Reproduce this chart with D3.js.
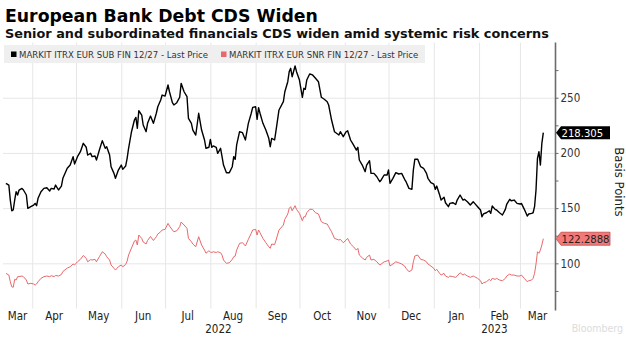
<!DOCTYPE html>
<html>
<head>
<meta charset="utf-8">
<script src="https://cdn.jsdelivr.net/npm/d3@7"></script>
<style>
  body { margin: 0; background: #fff; }
  svg { display: block; font-family: "DejaVu Sans Condensed", "DejaVu Sans", sans-serif; }
</style>
</head>
<body>
<svg id="chart" width="626" height="337"></svg>
<script>
// trading dates traced for both CDS indices
const dates = [
  "2022-03-14","2022-03-16","2022-03-17","2022-03-18","2022-03-19","2022-03-20","2022-03-21","2022-03-22","2022-03-23","2022-03-25",
  "2022-03-26","2022-03-28","2022-03-29","2022-03-31","2022-04-02","2022-04-03","2022-04-04","2022-04-05","2022-04-07","2022-04-09",
  "2022-04-11","2022-04-13","2022-04-14","2022-04-16","2022-04-17","2022-04-19","2022-04-21","2022-04-22","2022-04-25","2022-04-27",
  "2022-04-29","2022-04-30","2022-05-02","2022-05-04","2022-05-06","2022-05-08","2022-05-09","2022-05-11","2022-05-12","2022-05-14",
  "2022-05-15","2022-05-17","2022-05-19","2022-05-21","2022-05-22","2022-05-24","2022-05-25","2022-05-27","2022-05-28","2022-05-30",
  "2022-06-01","2022-06-02","2022-06-04","2022-06-05","2022-06-06","2022-06-08","2022-06-10","2022-06-11","2022-06-12","2022-06-13",
  "2022-06-15","2022-06-16","2022-06-18","2022-06-19","2022-06-21","2022-06-23","2022-06-25","2022-06-26","2022-06-28","2022-06-29",
  "2022-07-01","2022-07-03","2022-07-04","2022-07-06","2022-07-07","2022-07-09","2022-07-11","2022-07-12","2022-07-14","2022-07-16",
  "2022-07-17","2022-07-19","2022-07-20","2022-07-22","2022-07-24","2022-07-26","2022-07-28","2022-07-29","2022-07-31","2022-08-01",
  "2022-08-02","2022-08-03","2022-08-05","2022-08-06","2022-08-08","2022-08-09","2022-08-10","2022-08-12","2022-08-14","2022-08-16",
  "2022-08-17","2022-08-18","2022-08-19","2022-08-21","2022-08-23","2022-08-25","2022-08-27","2022-08-29","2022-08-30","2022-09-01",
  "2022-09-02","2022-09-03","2022-09-04","2022-09-06","2022-09-08","2022-09-10","2022-09-11","2022-09-12","2022-09-14","2022-09-15",
  "2022-09-17","2022-09-20","2022-09-21","2022-09-23","2022-09-24","2022-09-25","2022-09-26","2022-09-28","2022-09-29","2022-10-01",
  "2022-10-03","2022-10-04","2022-10-05","2022-10-06","2022-10-08","2022-10-10","2022-10-12","2022-10-14","2022-10-16","2022-10-18",
  "2022-10-20","2022-10-21","2022-10-23","2022-10-25","2022-10-28","2022-10-29","2022-10-31","2022-11-02","2022-11-03","2022-11-05",
  "2022-11-07","2022-11-09","2022-11-10","2022-11-11","2022-11-13","2022-11-15","2022-11-16","2022-11-18","2022-11-19","2022-11-21",
  "2022-11-23","2022-11-25","2022-11-26","2022-11-28","2022-11-30","2022-12-01","2022-12-02","2022-12-04","2022-12-06","2022-12-08",
  "2022-12-10","2022-12-12","2022-12-13","2022-12-15","2022-12-17","2022-12-18","2022-12-19","2022-12-21","2022-12-23","2022-12-25",
  "2022-12-27","2022-12-28","2022-12-30","2023-01-01","2023-01-02","2023-01-03","2023-01-05","2023-01-06","2023-01-08","2023-01-09",
  "2023-01-11","2023-01-12","2023-01-14","2023-01-16","2023-01-17","2023-01-19","2023-01-21","2023-01-22","2023-01-24","2023-01-26",
  "2023-01-28","2023-01-29","2023-01-31","2023-02-02","2023-02-03","2023-02-04","2023-02-06","2023-02-08","2023-02-09","2023-02-10",
  "2023-02-12","2023-02-13","2023-02-15","2023-02-17","2023-02-19","2023-02-20","2023-02-22","2023-02-23","2023-02-25","2023-02-27",
  "2023-03-01","2023-03-02","2023-03-04","2023-03-06","2023-03-07","2023-03-09","2023-03-10","2023-03-11","2023-03-12","2023-03-13",
  "2023-03-14","2023-03-15","2023-03-16","2023-03-17"
];

// MARKIT ITRX EUR SUB FIN 12/27
const subFin = [
  172.5,170.9,157.3,147.6,148.3,157.3,164.9,161.9,166.4,167.9,
  166.4,161.9,149.8,151.3,152.8,154.3,152.2,158.9,164.9,167.9,
  168.5,165.5,167.9,167.3,170.9,166.4,170.0,177.0,186.1,189.0,
  196.6,190.0,196.6,201.1,208.7,205.1,198.1,199.6,196.6,197.2,
  193.6,202.6,211.1,204.2,205.6,198.1,187.5,181.5,177.0,184.5,
  189.0,185.1,188.1,195.1,204.2,219.2,229.8,232.2,222.3,238.2,
  234.3,225.3,219.2,226.8,233.4,226.8,235.9,241.8,247.9,252.4,
  251.5,261.5,255.4,245.5,243.4,245.5,250.4,263.0,255.4,250.9,
  231.3,226.8,220.7,216.2,235.9,220.7,211.7,204.2,205.1,212.3,
  205.1,206.3,205.1,199.6,204.2,196.6,189.0,182.1,182.1,187.5,
  196.6,194.2,207.2,219.2,218.3,211.7,226.8,235.9,241.3,241.8,
  230.4,240.9,235.9,226.8,220.7,213.2,205.6,213.2,211.7,220.7,
  238.9,246.4,255.4,264.5,273.6,276.6,269.0,278.7,273.6,266.0,
  250.4,258.5,257.6,266.0,271.5,270.6,267.6,264.5,250.4,248.6,
  246.4,243.4,229.8,219.2,216.2,219.2,214.7,219.2,220.1,211.7,
  207.2,202.6,205.1,193.6,189.0,183.0,189.0,192.9,181.5,181.5,
  178.4,173.9,175.5,180.0,180.0,184.5,172.5,177.0,182.1,180.9,
  181.5,176.1,173.9,167.9,167.0,184.5,194.2,194.2,187.5,186.1,
  181.5,177.0,173.0,171.8,167.0,170.0,161.9,157.3,159.8,154.9,
  151.3,154.3,154.9,153.3,157.3,161.9,157.3,158.0,155.8,152.8,
  155.8,154.3,151.3,148.3,142.2,144.7,145.8,147.6,145.3,151.9,
  148.9,148.3,145.8,143.8,148.9,153.7,158.0,156.7,157.3,154.3,
  153.7,154.3,148.9,142.8,144.7,145.3,145.8,151.3,166.4,195.1,
  201.1,189.0,208.7,218.305
];

// MARKIT ITRX EUR SNR FIN 12/27
const snrFin = [
  90.9,89.4,83.3,78.8,78.3,85.5,84.9,87.9,88.0,88.5,
  87.9,84.9,81.3,81.9,81.3,80.3,81.3,83.3,86.4,87.9,
  88.5,87.9,88.8,88.0,89.0,88.5,89.9,92.6,95.7,96.9,
  99.4,98.5,101.4,103.6,107.1,104.5,101.4,103.4,103.0,103.6,
  101.4,106.0,110.5,108.4,106.0,103.0,98.5,95.5,93.9,96.9,
  98.5,96.9,98.9,102.1,107.5,113.9,120.2,121.1,116.6,125.6,
  122.6,119.3,117.5,120.7,124.3,120.7,124.1,126.5,128.6,130.2,
  130.8,136.2,133.8,130.2,128.6,129.5,133.2,137.4,134.7,131.7,
  122.6,119.6,117.5,115.0,124.1,116.6,112.0,109.1,111.4,110.2,
  109.8,110.5,109.8,110.5,109.6,107.5,103.0,100.0,100.5,103.6,
  106.0,106.6,112.0,118.1,118.7,115.7,121.7,127.2,130.2,130.8,
  125.6,130.2,127.7,122.6,118.7,115.0,113.6,117.5,117.0,121.1,
  130.2,134.7,139.9,144.7,149.8,151.3,147.6,152.2,148.9,145.3,
  138.6,142.2,142.2,145.8,148.9,148.9,145.8,144.7,137.7,136.2,
  135.6,133.2,128.6,122.6,121.1,121.7,118.7,121.1,122.6,117.5,
  115.0,112.0,113.6,107.5,105.0,103.0,105.4,107.5,103.0,103.6,
  101.4,98.5,99.4,101.4,102.1,103.0,97.6,99.4,101.4,100.5,
  99.4,97.6,95.5,92.4,93.9,101.4,106.6,107.5,103.6,103.0,
  101.4,99.4,97.6,95.5,93.3,94.6,90.9,89.4,90.9,88.5,
  87.3,88.5,88.0,87.3,88.5,91.5,89.4,90.3,88.5,87.3,
  88.5,87.9,86.4,84.2,81.3,82.4,83.3,85.5,84.2,86.4,
  85.5,86.4,84.9,84.2,86.4,88.5,90.3,89.4,89.4,88.5,
  88.5,89.4,86.4,83.3,84.2,84.9,86.4,90.9,99.4,110.5,
  109.1,112.0,116.6,122.2888
];

const seriesNames = ["MARKIT ITRX EUR SUB FIN 12/27 - Last Price", "MARKIT ITRX EUR SNR FIN 12/27 - Last Price"];
const lastLabels = ["218.305", "122.2888"];
const yTicks = [75, 100, 125, 150, 175, 200, 225, 250, 275];
const yLabelled = [100, 150, 200, 250];

const parse = d3.timeParse("%Y-%m-%d");
const series = [
  { name: seriesNames[0], values: subFin, color: "#000000", width: 1.4, tag: "#000000", tagText: "#ffffff", last: lastLabels[0] },
  { name: seriesNames[1], values: snrFin, color: "#e8696b", width: 1.0, tag: "#f07a7a", tagText: "#222222", last: lastLabels[1] }
];
series.forEach(s => {
  s.points = dates.map((d, i) => ({ date: parse(d), value: s.values[i] }));
});

const svg = d3.select("#chart");
const plotLeft = 3, plotRight = 555, plotTop = 42.5, plotBottom = 307.5;

const x = d3.scaleTime()
  .domain([new Date(2022, 2, 12), new Date(2023, 2, 25)])
  .range([plotLeft, plotRight]);
const y = d3.scaleLinear()
  .domain([60, 300])
  .range([plotBottom, plotTop]);

// title block
svg.append("text")
  .attr("x", 5).attr("y", 22)
  .style("font-family", "'DejaVu Sans', sans-serif")
  .style("font-weight", "bold")
  .style("font-size", "17.3px")
  .attr("fill", "#000")
  .text("European Bank Debt CDS Widen");
svg.append("text")
  .attr("x", 5).attr("y", 38)
  .style("font-family", "'DejaVu Sans', sans-serif")
  .style("font-weight", "bold")
  .style("font-size", "12.85px")
  .attr("fill", "#111")
  .text("Senior and subordinated financials CDS widen amid systemic risk concerns");

// horizontal gridlines
svg.append("g")
  .attr("transform", "translate(" + plotRight + ",0)")
  .call(d3.axisLeft(y).tickValues(yLabelled).tickSize(plotRight - plotLeft).tickFormat(""))
  .call(g => g.select(".domain").remove())
  .call(g => g.selectAll("line").attr("stroke", "#e6e6e6"));

// vertical gridlines at month starts
const monthStarts = d3.timeMonth.range(new Date(2022, 3, 1), x.domain()[1]);
svg.append("g")
  .attr("transform", "translate(0," + (plotBottom + 1) + ")")
  .call(d3.axisBottom(x).tickValues(monthStarts).tickSize(-(plotBottom + 1 - plotTop)).tickFormat(""))
  .call(g => g.select(".domain").remove())
  .call(g => g.selectAll("line").attr("stroke", "#e6e6e6"));

// legend strip
svg.append("rect")
  .attr("x", 4).attr("y", 45).attr("width", 421).attr("height", 18)
  .attr("fill", "#efefef");
const legendX = [11, 221];
const legend = svg.selectAll(".legend")
  .data(series)
  .enter().append("g")
  .attr("transform", (d, i) => "translate(" + legendX[i] + ",0)");
legend.append("rect")
  .attr("x", 0).attr("y", 51.5).attr("width", 5.5).attr("height", 5.5)
  .attr("fill", d => d.color);
legend.append("text")
  .attr("x", 8).attr("y", 58)
  .style("font-size", "9.5px")
  .attr("fill", "#333")
  .text(d => d.name);

// lines
const line = d3.line()
  .x(d => x(d.date))
  .y(d => y(d.value));
svg.selectAll(".series")
  .data(series.slice().reverse())
  .enter().append("path")
  .attr("fill", "none")
  .attr("stroke", d => d.color)
  .attr("stroke-width", d => d.width)
  .attr("stroke-linejoin", "round")
  .attr("d", d => line(d.points));

// right value axis
const yAxis = svg.append("g")
  .attr("transform", "translate(" + (plotRight + 0.5) + ",0)")
  .call(d3.axisRight(y).tickValues(yTicks).tickSize(3).tickPadding(2)
    .tickFormat(d => yLabelled.includes(d) ? d : ""));
yAxis.select(".domain")
  .attr("d", "M0," + plotTop + "V" + (plotBottom + 3))
  .attr("stroke", "#6b6b6b").attr("stroke-width", 1.6);
yAxis.selectAll("line").attr("stroke", "#6b6b6b");
yAxis.selectAll("text")
  .style("font-size", "11.5px")
  .style("font-family", "'DejaVu Sans Condensed', sans-serif")
  .attr("fill", "#333");

svg.append("text")
  .attr("transform", "translate(615," + 182 + ") rotate(90)")
  .attr("text-anchor", "middle")
  .style("font-size", "13px")
  .style("font-family", "'DejaVu Sans Condensed', sans-serif")
  .attr("fill", "#222")
  .text("Basis Points");

// last value tags
const tags = svg.selectAll(".tag")
  .data(series)
  .enter().append("g")
  .attr("transform", d => "translate(" + (plotRight + 1) + "," + y(d.values[d.values.length - 1]) + ")");
tags.append("path")
  .attr("d", "M0,0L5,-6.5H54V6.5H5Z")
  .attr("fill", d => d.tag)
  .attr("stroke", (d, i) => i === 1 ? "#c84848" : "none")
  .attr("stroke-width", 0.8);
tags.append("text")
  .attr("x", 5.5).attr("y", 4.2)
  .style("font-size", "11.2px")
  .style("font-family", "'DejaVu Sans Condensed', sans-serif")
  .attr("fill", d => d.tagText)
  .text(d => d.last);

// month labels, centred in each visible month
const monthEdges = [x.domain()[0]].concat(monthStarts, [x.domain()[1]]);
const months = d3.range(monthEdges.length - 1).map(i => ({
  label: d3.timeFormat("%b")(d3.timeMonth.floor(monthEdges[i])),
  cx: (x(monthEdges[i]) + x(monthEdges[i + 1])) / 2
}));
svg.selectAll(".month")
  .data(months)
  .enter().append("text")
  .attr("x", d => d.cx).attr("y", 320)
  .attr("text-anchor", "middle")
  .style("font-size", "11.5px")
  .attr("fill", "#222")
  .text(d => d.label);

// year labels, centred in each visible year
const yearEdges = [x.domain()[0], new Date(2023, 0, 1), x.domain()[1]];
svg.selectAll(".year")
  .data([2022, 2023])
  .enter().append("text")
  .attr("x", (d, i) => (x(yearEdges[i]) + x(yearEdges[i + 1])) / 2).attr("y", 333)
  .attr("text-anchor", "middle")
  .style("font-size", "11.5px")
  .attr("fill", "#222")
  .text(d => d);

// faint source mark
svg.append("text")
  .attr("x", 623).attr("y", 332)
  .attr("text-anchor", "end")
  .style("font-size", "10.5px")
  .attr("fill", "#dcdcdc")
  .text("Bloomberg");
</script>
</body>
</html>
